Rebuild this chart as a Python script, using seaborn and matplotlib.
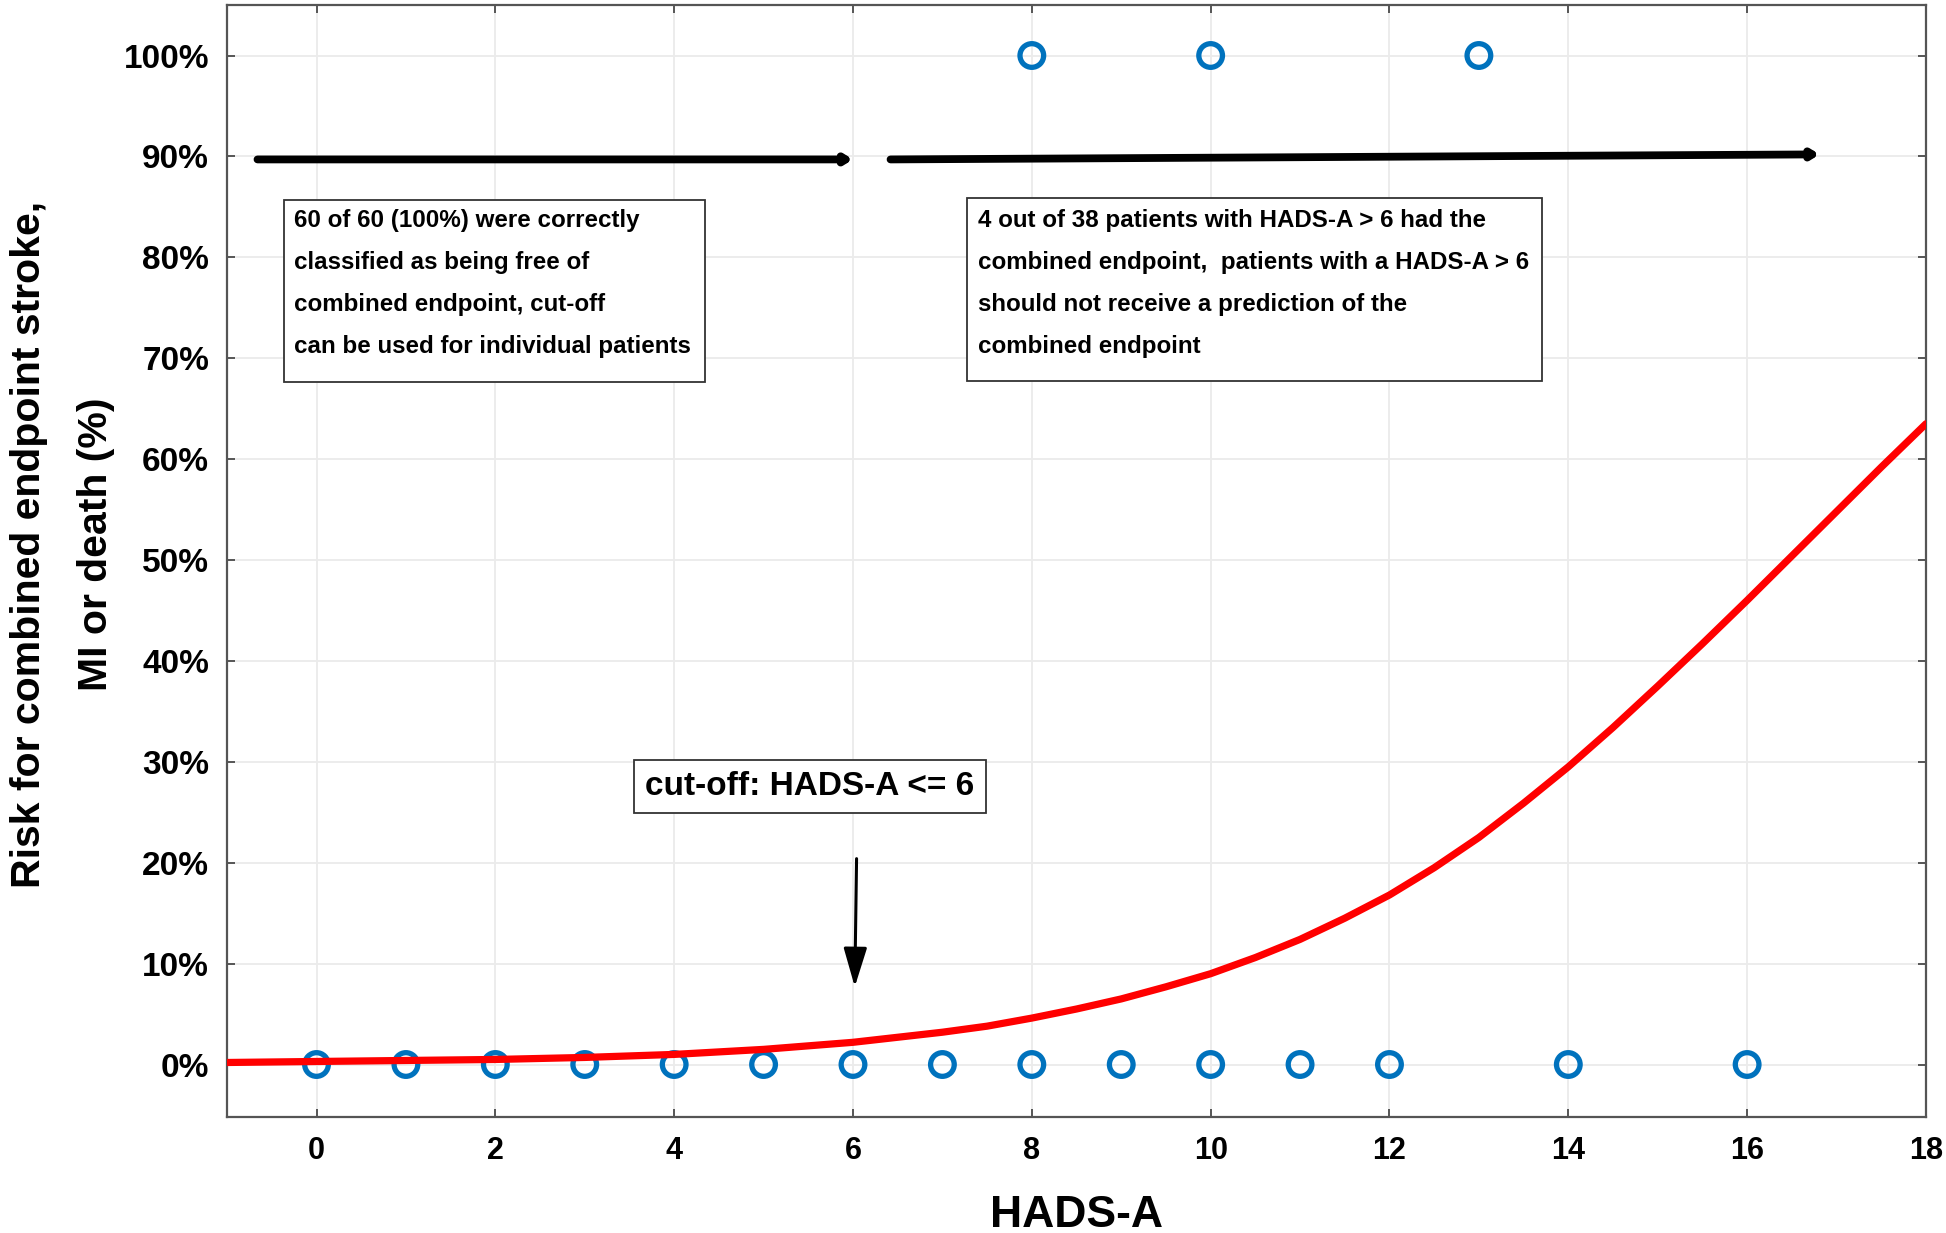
import matplotlib
matplotlib.use("Agg")
import matplotlib.pyplot as plt
import seaborn as sns
import pandas as pd
from matplotlib.patches import Rectangle

# ---------------- data ----------------
curve_x = [-1, 0, 1, 2, 3, 4, 5, 6, 6.5, 7, 7.5, 8, 8.5, 9, 9.5, 10, 10.5, 11,
           11.5, 12, 12.5, 13, 13.5, 14, 14.5, 15, 15.5, 16, 16.5, 17, 17.5, 18]
curve_y = [0.002, 0.003, 0.004, 0.005, 0.007, 0.010, 0.015, 0.022, 0.027, 0.032,
           0.038, 0.046, 0.055, 0.065, 0.077, 0.090, 0.106, 0.124, 0.145, 0.168,
           0.195, 0.225, 0.259, 0.295, 0.334, 0.375, 0.417, 0.460, 0.504, 0.548,
           0.592, 0.635]

obs_x = [0, 1, 2, 3, 4, 5, 6, 7, 8, 9, 10, 11, 12, 14, 16, 8, 10, 13]
obs_y = [0, 0, 0, 0, 0, 0, 0, 0, 0, 0, 0, 0, 0, 0, 0, 1, 1, 1]

x_ticks = [0, 2, 4, 6, 8, 10, 12, 14, 16, 18]
x_ticklabels = ["0", "2", "4", "6", "8", "10", "12", "14", "16", "18"]
y_ticks = [0.0, 0.1, 0.2, 0.3, 0.4, 0.5, 0.6, 0.7, 0.8, 0.9, 1.0]
y_ticklabels = ["0%", "10%", "20%", "30%", "40%", "50%", "60%", "70%", "80%", "90%", "100%"]

range_arrows = [((-0.66, 0.897), (6.0, 0.897)), ((6.42, 0.897), (16.81, 0.902))]
cutoff_arrow = ((6.04, 0.204), (6.02, 0.077))

box1_lines = ["60 of 60 (100%) were correctly",
              "classified as being free of",
              "combined endpoint, cut-off",
              "can be used for individual patients"]
box2_lines = ["4 out of 38 patients with HADS-A > 6 had the",
              "combined endpoint,  patients with a HADS-A > 6",
              "should not receive a prediction of the",
              "combined endpoint"]
cutoff_text = "cut-off: HADS-A <= 6"
x_label = "HADS-A"
y_label = "Risk for combined endpoint stroke,\nMI or death (%)"

# ---------------- style ----------------
sns.set_style("whitegrid")
plt.rcParams["font.family"] = ["Liberation Sans", "DejaVu Sans"]
plt.rcParams["font.weight"] = "bold"
plt.rcParams["text.color"] = "black"
plt.rcParams["axes.labelcolor"] = "black"
plt.rcParams["xtick.color"] = "black"
plt.rcParams["ytick.color"] = "black"

curve_df = pd.DataFrame({"x": curve_x, "y": curve_y})
obs_df = pd.DataFrame({"x": obs_x, "y": obs_y})

fig = plt.figure(figsize=(19.46, 12.33), dpi=100)
ax = fig.add_axes([0.1167, 0.0941, 0.8730, 0.9018])

sns.scatterplot(data=obs_df, x="x", y="y", ax=ax, s=290, marker="o",
                facecolors="none", edgecolor="#0072BD", linewidth=3.8, zorder=3)
sns.lineplot(data=curve_df, x="x", y="y", ax=ax, color="#FF0000", linewidth=5.2,
             zorder=4)

ax.set_xlim(-1, 18)
ax.set_ylim(-0.052, 1.05)
ax.set_xticks(x_ticks)
ax.set_xticklabels(x_ticklabels)
ax.set_yticks(y_ticks)
ax.set_yticklabels(y_ticklabels)

ax.grid(True, color="#ebebeb", linewidth=1.3)
ax.set_axisbelow(True)
for sp in ax.spines.values():
    sp.set_visible(True)
    sp.set_color("#555555")
    sp.set_linewidth(1.6)

ax.tick_params(axis="both", which="both", direction="in", length=6, width=1.4,
               color="#555555", labelcolor="black",
               top=True, right=True, bottom=True, left=True)
ax.tick_params(axis="x", pad=14, labelsize=22)
ax.tick_params(axis="y", pad=13, labelsize=24)
for lab in ax.get_xticklabels() + ax.get_yticklabels():
    lab.set_fontweight("bold")

ax.set_xlabel(x_label, fontsize=32, fontweight="bold", va="baseline")
ax.xaxis.set_label_coords(0.5, -0.0989)
ax.set_ylabel(y_label, fontsize=29.5, fontweight="bold", va="center",
              linespacing=1.95)
ax.yaxis.set_label_coords(-0.097, 0.515)

# range arrows
for (x0, y0), (x1, y1) in range_arrows:
    ax.annotate("", xy=(x1, y1), xytext=(x0, y0),
                arrowprops=dict(arrowstyle="-|>,head_length=0.4,head_width=0.25",
                                mutation_scale=9, lw=5.6, color="black",
                                shrinkA=0, shrinkB=0), zorder=5)

# cut-off arrow
(cx0, cy0), (cx1, cy1) = cutoff_arrow
ax.annotate("", xy=(cx1, cy1), xytext=(cx0, cy0),
            arrowprops=dict(arrowstyle="-|>,head_length=1.0,head_width=0.3",
                            mutation_scale=24, lw=2.2, color="black",
                            shrinkA=0, shrinkB=0), zorder=5)

# text boxes
def text_box(x0, x1, y0, y1, tx, ty0, lines, step):
    ax.add_patch(Rectangle((x0, y1), x1 - x0, y0 - y1, facecolor="white",
                           edgecolor="#333333", linewidth=1.3, zorder=6))
    for i, line in enumerate(lines):
        ax.text(tx, ty0 - i * step, line, fontsize=17.4, fontweight="bold",
                color="black", ha="left", va="center", zorder=7)

text_box(-0.36, 4.34, 0.857, 0.676, -0.25, 0.836, box1_lines, 0.0416)
text_box(7.28, 13.71, 0.859, 0.677, 7.40, 0.836, box2_lines, 0.0416)

ax.text(5.52, 0.276, cutoff_text, fontsize=24, fontweight="bold", color="black",
        ha="center", va="center", zorder=7,
        bbox=dict(boxstyle="square,pad=0.33", facecolor="white",
                  edgecolor="#333333", linewidth=1.3))

fig.savefig("out.png", dpi=100, facecolor="white")
